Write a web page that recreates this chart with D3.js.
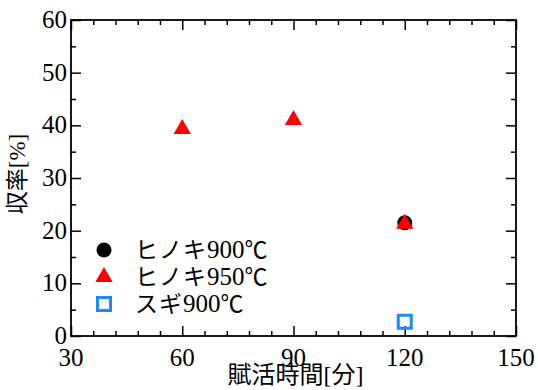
<!DOCTYPE html>
<html lang="en">
<head>
<meta charset="utf-8">
<script src="https://cdn.jsdelivr.net/npm/d3@7"></script>
</head>
<body style="margin:0; background:#fff">
<div id="chart"></div>
<script>
// data
var xMajor = [30, 60, 90, 120, 150];
var yMajor = [0, 10, 20, 30, 40, 50, 60];
var hinoki900 = [{t: 120, y: 21.5}];
var hinoki950 = [{t: 60, y: 39.5}, {t: 90, y: 41.2}, {t: 120, y: 21.5}];
var sugi900 = [{t: 120, y: 2.7}];
// legend labels split into [japanese, digits, unit]
var legendNames = [["ヒノキ", "900", "℃"], ["ヒノキ", "950", "℃"], ["スギ", "900", "℃"]];

var SERIF = "Liberation Serif";
var JP = "Noto Sans CJK JP";

var W = 538, H = 390;
var margin = {top: 20, right: 22, bottom: 54, left: 71},
    width = W - margin.left - margin.right,
    height = H - margin.top - margin.bottom;

var svg = d3.select("#chart").append("svg")
    .attr("width", W).attr("height", H)
  .append("g")
    .attr("transform", "translate(" + margin.left + "," + margin.top + ")");

var x = d3.scaleLinear().domain([30, 150]).range([0, width]);
var y = d3.scaleLinear().domain([0, 60]).range([height, 0]);

var xMinor = d3.range(30, 150.1, 6).filter(d => xMajor.indexOf(d) < 0);
var yMinor = d3.range(5, 60, 10);

// ticks point inward on all four sides
function ticks(axis, vals, len, tx) {
  var g = svg.append("g")
    .attr("transform", tx || null)
    .call(axis.tickValues(vals).tickSize(len).tickFormat(""));
  g.select(".domain").remove();
  g.selectAll(".tick line").attr("stroke", "#000").attr("stroke-width", 1.5);
  return g;
}
ticks(d3.axisTop(x), xMajor, 10, "translate(0," + height + ")");
ticks(d3.axisTop(x), xMinor, 5, "translate(0," + height + ")");
ticks(d3.axisBottom(x), xMajor, 10);
ticks(d3.axisBottom(x), xMinor, 5);
ticks(d3.axisRight(y), yMajor, 10);
ticks(d3.axisRight(y), yMinor, 5);
ticks(d3.axisLeft(y), yMajor, 10, "translate(" + width + ",0)");
ticks(d3.axisLeft(y), yMinor, 5, "translate(" + width + ",0)");

svg.append("rect")
  .attr("width", width).attr("height", height)
  .attr("fill", "none").attr("stroke", "#000").attr("stroke-width", 1.8);

// tick labels
svg.selectAll(".xl").data(xMajor).enter().append("text")
  .style("font-family", SERIF, "important").style("font-size", "25px", "important")
  .attr("x", d => x(d)).attr("y", height + 30)
  .attr("text-anchor", "middle")
  .text(d => d);
svg.selectAll(".yl").data(yMajor).enter().append("text")
  .style("font-family", SERIF, "important").style("font-size", "25px", "important")
  .attr("x", -4).attr("y", d => y(d) + 8)
  .attr("text-anchor", "end")
  .text(d => d);

// axis titles (japanese and brackets in separate runs)
function mixed(sel, parts) {
  parts.forEach(function(p) {
    sel.append("tspan").style("font-family", p[1] ? JP : SERIF, "important").text(p[0]);
  });
  return sel;
}
var xt = svg.append("text")
  .attr("x", width / 2 + 2).attr("y", height + 47)
  .attr("text-anchor", "middle").attr("font-size", 24);
mixed(xt, [["賦活時間", 1], ["[", 0], ["分", 1], ["]", 0]]);

var yt = svg.append("text")
  .attr("transform", "translate(-46," + (height / 2 - 4) + ") rotate(-90)")
  .attr("text-anchor", "middle").attr("font-size", 23);
mixed(yt, [["収率", 1], ["[%]", 0]]);

// points
svg.selectAll(".c").data(hinoki900).enter().append("circle")
  .attr("cx", d => x(d.t)).attr("cy", d => y(d.y)).attr("r", 7.5)
  .attr("fill", "#000");
var tri = d3.symbol().type(d3.symbolTriangle).size(130);
svg.selectAll(".t").data(hinoki950).enter().append("path")
  .attr("d", tri)
  .attr("transform", d => "translate(" + x(d.t) + "," + (y(d.y) + 1) + ")")
  .attr("fill", "#ff0000");
svg.selectAll(".s").data(sugi900).enter().append("rect")
  .attr("x", d => x(d.t) - 6.5).attr("y", d => y(d.y) - 6.5)
  .attr("width", 13).attr("height", 13)
  .attr("fill", "none").attr("stroke", "#1a8cff").attr("stroke-width", 3);

// legend
var lg = svg.append("g").attr("transform", "translate(33," + 230 + ")");
lg.append("circle").attr("cx", 0).attr("cy", 0).attr("r", 7.5).attr("fill", "#000");
lg.append("path").attr("d", tri).attr("transform", "translate(0,27)").attr("fill", "#ff0000");
lg.append("rect").attr("x", -6.5).attr("y", 47.5).attr("width", 13).attr("height", 13)
  .attr("fill", "none").attr("stroke", "#1a8cff").attr("stroke-width", 3);
lg.selectAll(".lt").data(legendNames).enter().append("text")
  .attr("x", 31).attr("y", (d, i) => i * 27 + 8)
  .attr("font-size", 23)
  .each(function(d) {
    var t = d3.select(this);
    t.append("tspan").style("font-family", JP, "important").attr("letter-spacing", 1).text(d[0]);
    t.append("tspan").style("font-family", SERIF, "important").attr("font-size", 25).text(d[1]);
    t.append("tspan").style("font-family", JP, "important").text(d[2]);
  });
</script>
</body>
</html>
